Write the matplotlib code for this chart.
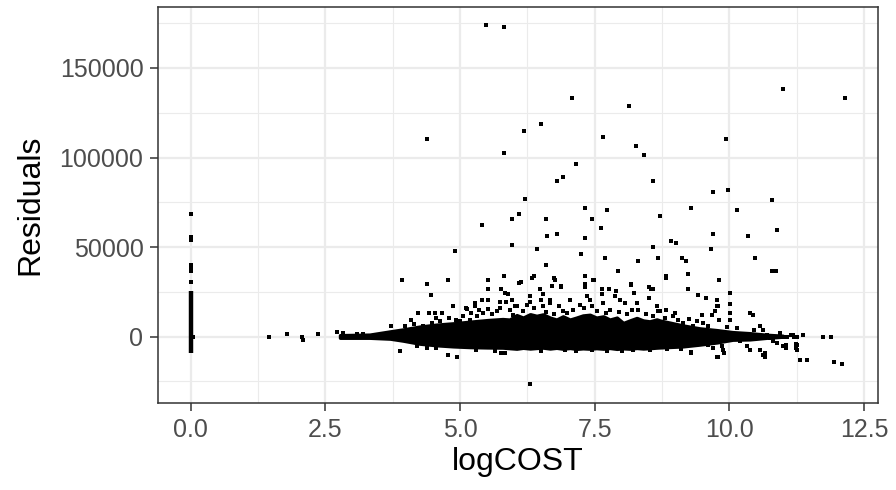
import matplotlib
matplotlib.use("Agg")
import matplotlib.pyplot as plt
import numpy as np

plt.rcParams['font.family'] = ['Liberation Sans', 'DejaVu Sans']

# big residuals (logCOST, residual)
outliers = [(5.48, 173900), (5.81, 172800), (4.38, 110200), (5.81, 102700), (7.08, 133400),
            (11.0, 138200), (12.14, 133400), (8.14, 128600), (6.18, 115000), (6.5, 118700),
            (7.65, 111300), (8.26, 106500), (8.42, 101600), (9.94, 110200), (7.16, 96600),
            (6.79, 86800), (6.91, 89200), (8.59, 86800), (9.69, 80600), (9.98, 81800),
            (6.21, 77100), (10.8, 76400), (5.97, 65800), (6.09, 68400), (6.59, 65800),
            (7.32, 72100), (7.73, 70800), (7.45, 65800), (9.29, 72100), (10.14, 70800),
            (8.72, 67100), (7.61, 60900), (6.62, 56100), (6.79, 57400), (7.32, 54800),
            (5.97, 51100), (9.69, 57400), (10.34, 56100), (10.88, 59800), (6.42, 48700),
            (7.24, 46300), (8.59, 50000), (6.59, 40100), (7.69, 43900), (8.3, 42500),
            (8.67, 43900), (8.91, 53500), (9.0, 52400), (9.12, 43900), (9.2, 42500),
            (9.65, 48700), (10.47, 43900), (10.8, 36400), (10.86, 36400), (7.94, 36400),
            (5.4, 62300), (4.9, 47600)]

# points sitting above the dense band
upper = [(9.24, 35100), (8.83, 34000), (8.83, 32900), (9.81, 31600), (5.81, 34000),
         (6.34, 32900), (6.38, 34000), (6.13, 30300), (6.74, 32900), (6.77, 31600),
         (6.87, 27900), (7.32, 34000), (7.48, 31600), (7.32, 29200), (8.18, 29200),
         (8.51, 27900), (8.59, 26600), (9.24, 26800), (9.41, 23000), (9.57, 21700),
         (9.77, 20600), (10.02, 24100), (10.02, 18000), (9.77, 16900), (10.02, 13200),
         (9.49, 11900), (10.39, 13200), (10.43, 11900), (10.02, 9500), (9.81, 9500),
         (8.23, 24100), (7.77, 26600), (3.92, 31800), (4.38, 29200), (4.46, 23000),
         (4.78, 31800), (5.52, 31800), (5.52, 26800), (5.76, 26800), (5.84, 24400),
         (4.87, 16900), (4.21, 13200), (4.42, 13200), (4.09, 9500), (4.53, 13200),
         (3.71, 5700), (5.11, 16000), (5.27, 18800), (5.27, 16900), (5.4, 20600),
         (5.52, 20600), (5.74, 19500), (5.85, 19500), (5.89, 24000), (6.09, 29900),
         (5.12, 15400), (5.52, 15400), (5.2, 13200), (4.66, 13200), (4.93, 9500),
         (5.0, 8500), (4.62, 8500), (4.47, 7600), (4.31, 5700), (5.18, 9500),
         (5.31, 11300), (5.43, 13200), (5.68, 14100), (5.92, 15000), (6.05, 16900),
         (5.99, 12300), (5.97, 20600), (6.71, 28000), (6.87, 28000), (7.32, 27700),
         (7.47, 31400), (7.64, 26600), (7.64, 24000), (7.9, 25300), (8.18, 29000),
         (8.51, 21600), (8.55, 26600), (6.02, 16900), (6.30, 22900), (6.30, 19100),
         (6.48, 26600), (6.53, 24000), (6.51, 20600), (6.54, 16900), (6.67, 20600),
         (6.67, 18800), (7.04, 20600), (6.84, 16900), (6.91, 14100), (7.22, 17800),
         (7.35, 22500), (7.41, 20600), (7.44, 16900), (7.66, 18800), (7.78, 15000),
         (7.87, 22500), (7.97, 20600), (8.06, 18800), (8.28, 18800), (8.31, 15000),
         (8.65, 16900), (8.68, 14100), (6.17, 14100), (9.78, 16900), (9.73, 14100),
         (9.67, 12300), (8.71, 14100), (8.83, 15000), (8.99, 13200), (8.96, 11300),
         (9.14, 7600), (9.33, 5700), (9.51, 7600), (10.57, 5700), (10.63, 3900),
         (10.69, 1100), (10.94, 2100), (11.0, 0), (11.18, 1100), (11.25, 0),
         (11.07, 0), (11.15, 900), (11.2, 0), (11.36, 900), (11.73, 0), (11.89, 0),
         (6.25, 17500), (6.38, 16000), (6.60, 13800), (6.75, 12600), (6.98, 13000),
         (7.10, 14600), (7.30, 15800), (7.55, 14200), (7.70, 13200), (7.95, 13800),
         (8.10, 12600), (8.20, 14600), (8.45, 12400), (8.58, 11600), (8.80, 10600),
         (9.05, 9200), (9.25, 10000), (9.40, 8600), (9.60, 6200), (9.95, 5200),
         (10.15, 4600), (10.45, 3600), (5.60, 12800), (5.75, 15800), (5.35, 15000),
         (5.05, 11800), (4.80, 10600), (4.55, 10200), (4.15, 7200), (3.98, 6100)]

# points below the dense band
lower = [(11.25, -4500), (11.25, -7200), (11.06, -6300), (11.0, -5400), (10.57, -7200),
         (10.63, -10000), (10.66, -11300), (10.38, -7200), (10.32, -5400), (10.2, -2600),
         (9.89, -7200), (9.86, -5400), (9.79, -11300), (9.29, -8700), (9.7, -6300),
         (9.61, -4500), (10.81, -2600), (10.88, -3500), (10.75, -700), (11.23, -4100),
         (11.23, -6500), (11.32, -12800), (11.45, -12800), (11.94, -13900), (12.1, -15200),
         (10.67, -9100), (9.77, -11500), (9.28, -9100), (9.9, -9100), (11.06, -4500),
         (6.3, -26200), (6.5, -7800), (3.88, -7800), (4.38, -6500), (4.78, -10200),
         (4.95, -11500), (5.65, -7800), (5.76, -9100), (5.84, -9100), (8.21, -7200),
         (7.72, -8200), (5.30, -7400), (6.95, -7400), (7.16, -7900), (7.45, -7600),
         (8.00, -7900), (8.52, -7600), (8.85, -7000), (9.10, -6800), (4.55, -6200),
         (4.20, -5200)]

# sparse points on the left, and the logCOST = 0 column
left_tail = [(1.45, 0), (1.79, 1500), (2.07, -200), (2.09, -1700), (2.36, 1500),
             (2.71, 2600), (2.83, 2000), (2.98, 600), (3.08, 1700), (3.2, 1700)]
zero_pts = [(0, 30300), (0, 36400), (0, 37500), (0, 38600), (0, 40100),
            (0, 54100), (0, 55800), (0, 68400), (0.04, 0)]
zero_lo, zero_hi = -9100, 25300

# outline of the solid black band (too dense to show single points)
band_x = [2.77, 3.32, 3.70, 3.94, 4.25, 4.57, 4.87, 5.18, 5.50, 5.79, 5.92, 6.05, 6.17,
          6.30, 6.42, 6.54, 6.67, 6.79, 6.91, 7.04, 7.16, 7.28, 7.41, 7.53, 7.66, 7.78,
          7.91, 8.03, 8.15, 8.28, 8.40, 8.52, 8.65, 8.71, 9.14, 9.45, 9.77, 10.06, 10.38,
          10.70, 10.99]
band_hi = [800, 1100, 2900, 4000, 5600, 6700, 7400, 8300, 9200, 9800, 9500, 12000, 10600,
           12500, 11600, 12400, 10600, 9500, 11300, 9500, 10600, 11800, 12200, 10600,
           11300, 9500, 10600, 7600, 9000, 10400, 9000, 8500, 9600, 9000, 6200, 4600,
           3600, 2500, 1900, 1000, 500]
band_lo = [-600, -600, -1100, -2200, -3900, -4800, -5400, -5800, -6000, -6100, -6400,
           -6700, -6200, -6600, -6300, -6100, -6600, -6200, -6700, -6300, -6800, -6500,
           -6700, -6400, -6700, -6300, -6800, -6500, -6700, -6300, -6600, -6400, -6100,
           -6000, -5400, -4400, -3200, -1700, -1500, -600, 0]

fig = plt.figure(figsize=(8.96, 4.9), dpi=100)
ax = fig.add_axes([158 / 896, 87 / 490, 720 / 896, 396 / 490])

grid = '#EBEBEB'
for v in np.arange(0, 12.6, 2.5):
    ax.axvline(v, color=grid, lw=1.6, zorder=0)
for v in np.arange(1.25, 12.6, 2.5):
    ax.axvline(v, color=grid, lw=0.8, zorder=0)
for v in [0, 50000, 100000, 150000]:
    ax.axhline(v, color=grid, lw=1.6, zorder=0)
for v in [-25000, 25000, 75000, 125000, 175000]:
    ax.axhline(v, color=grid, lw=0.8, zorder=0)

ax.fill_between(band_x, band_lo, band_hi, color='black', lw=2.5, zorder=2)
ax.vlines(0, zero_lo, zero_hi, color='black', lw=3.2, zorder=2)

pts = outliers + upper + lower + left_tail + zero_pts
ax.scatter([p[0] for p in pts], [p[1] for p in pts], marker='s', s=8,
           color='black', linewidths=0, zorder=3)

ax.set_xlim(-0.61, 12.76)
ax.set_ylim(-37050, 184050)
ax.set_xticks([0, 2.5, 5, 7.5, 10, 12.5])
ax.set_xticklabels(['0.0', '2.5', '5.0', '7.5', '10.0', '12.5'])
ax.set_yticks([0, 50000, 100000, 150000])
ax.set_yticklabels(['0', '50000', '100000', '150000'])

for s in ax.spines.values():
    s.set_color('#333333')
    s.set_linewidth(1.1)
ax.tick_params(length=5.5, width=1.1, color='#333333', labelcolor='#4D4D4D',
               labelsize=18, pad=5)
ax.set_xlabel('logCOST', fontsize=23, labelpad=4)
ax.set_ylabel('Residuals', fontsize=23, labelpad=10)

fig.savefig('out.png', dpi=100)
